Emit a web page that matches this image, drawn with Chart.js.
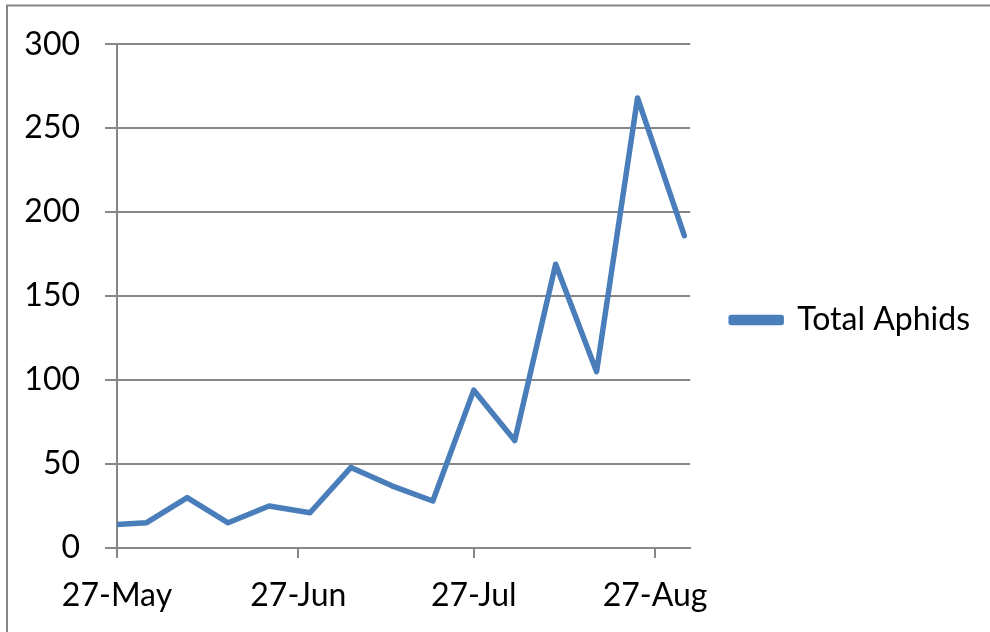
<!DOCTYPE html>
<html>
<head>
<meta charset="utf-8">
<script src="https://cdn.jsdelivr.net/npm/chart.js@4/dist/chart.umd.min.js"></script>
<style>
  html, body { margin: 0; padding: 0; background: #ffffff; }
  #wrap { width: 990px; height: 632px; position: relative; }
</style>
</head>
<body>
<div id="wrap"><canvas id="c" width="990" height="632"></canvas></div>
<script>
// ---- data ----
const seriesLabel = "Total Aphids";
const sampleDates = ["2013-05-27","2013-06-01","2013-06-08","2013-06-15","2013-06-22","2013-06-29",
  "2013-07-06","2013-07-13","2013-07-20","2013-07-27","2013-08-03","2013-08-10","2013-08-17",
  "2013-08-24","2013-09-01"];
const aphidCounts = [14, 15, 30, 15, 25, 21, 48, 37, 28, 94, 64, 169, 105, 268, 186];
const xTickDates = ["2013-05-27","2013-06-27","2013-07-27","2013-08-27"];
const xTickLabels = ["27-May","27-Jun","27-Jul","27-Aug"];
const axisStartDate = "2013-05-27";
const axisEndDate = "2013-09-02";
const yMin = 0, yMax = 300, yStep = 50;

const DAY = 86400000;
const dayOf = s => Math.round((Date.parse(s + "T00:00:00Z") - Date.parse(axisStartDate + "T00:00:00Z")) / DAY);
const points = sampleDates.map((d, i) => ({ x: dayOf(d), y: aphidCounts[i] }));
const tickDays = xTickDates.map(dayOf);

const GRID = "#868686";
const FONT = "Lato";

const framePlugin = {
  id: "frame",
  beforeDraw(chart) {
    const ctx = chart.ctx;
    ctx.save();
    ctx.fillStyle = "#ffffff";
    ctx.fillRect(0, 0, chart.width, chart.height);
    ctx.strokeStyle = GRID;
    ctx.lineWidth = 2;
    ctx.beginPath();
    ctx.moveTo(7, chart.height + 10);
    ctx.lineTo(7, 5.5);
    ctx.lineTo(chart.width + 10, 5.5);
    ctx.stroke();
    ctx.restore();
  }
};

new Chart(document.getElementById("c"), {
  type: "line",
  data: {
    datasets: [{
      label: seriesLabel,
      data: points,
      borderColor: "#4a7ebb",
      backgroundColor: "#4a7ebb",
      borderWidth: 5.5,
      pointRadius: 0,
      pointHoverRadius: 0,
      tension: 0,
      borderCapStyle: "round",
      borderJoinStyle: "round",
      fill: false
    }]
  },
  options: {
    responsive: false,
    animation: false,
    events: [],
    layout: { padding: { top: 8, right: 10, bottom: 0, left: 0 } },
    plugins: {
      title: { display: true, text: "", padding: { top: 22, bottom: 0 }, font: { size: 10 } },
      tooltip: { enabled: false },
      legend: {
        display: true,
        position: "right",
        maxWidth: 300,
        labels: {
          color: "#000000",
          font: { family: FONT, size: 32 },
          boxWidth: 50,
          boxHeight: 5,
          padding: 41
        }
      }
    },
    scales: {
      x: {
        type: "linear",
        min: dayOf(axisStartDate),
        max: dayOf(axisEndDate),
        afterBuildTicks(scale) {
          scale.ticks = tickDays.map(v => ({ value: v }));
        },
        afterFit(scale) { scale.height = 84; },
        ticks: {
          autoSkip: false,
          maxRotation: 0,
          color: "#000000",
          font: { family: FONT, size: 32 },
          padding: 18,
          callback(value) {
            const i = tickDays.indexOf(value);
            return i >= 0 ? xTickLabels[i] : "";
          }
        },
        grid: { display: true, drawOnChartArea: false, drawTicks: true, tickLength: 10, color: GRID, lineWidth: 2 },
        border: { display: true, color: GRID, width: 2 }
      },
      y: {
        min: yMin,
        max: yMax,
        afterFit(scale) { scale.width = 117; },
        ticks: {
          stepSize: yStep,
          color: "#000000",
          font: { family: FONT, size: 32 },
          padding: 25
        },
        grid: { color: GRID, lineWidth: 2, tickLength: 12, drawTicks: true },
        border: { display: true, color: GRID, width: 2 }
      }
    }
  },
  plugins: [framePlugin]
});
</script>
</body>
</html>
